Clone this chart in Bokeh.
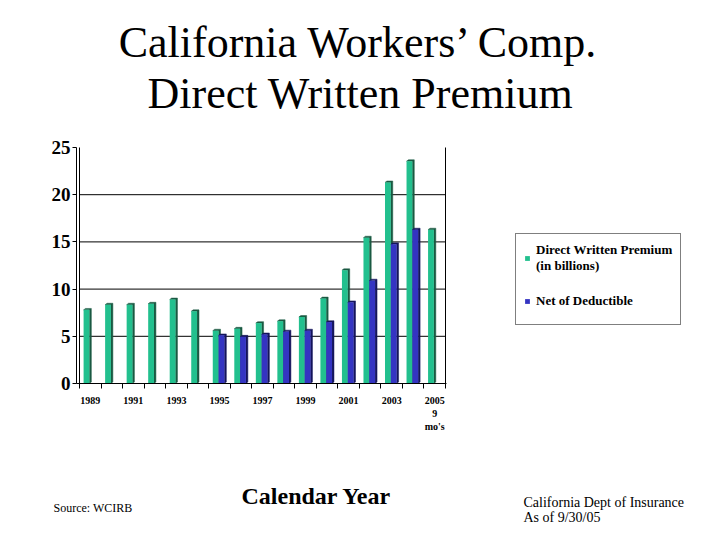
from bokeh.plotting import figure
from bokeh.models import FixedTicker, Label, Legend, LegendItem, Range1d, LinearAxis
from bokeh.embed import file_html
from bokeh.resources import INLINE

# ---- data ----
years = list(range(1989, 2006))
dwp = [7.8, 8.35, 8.35, 8.45, 8.9, 7.65, 5.6, 5.8, 6.4, 6.6, 7.05, 9.0, 12.0, 15.45, 21.3, 23.55, 16.3]
net_years = list(range(1995, 2005))
net = [5.1, 4.95, 5.2, 5.5, 5.6, 6.5, 8.6, 10.9, 14.75, 16.3]
tick_years = list(range(1989, 2006, 2))
tick_labels = {2005: "2005\n9\nmo's"}
y_ticks = [0, 5, 10, 15, 20, 25]
grid_ticks = [5, 10, 15, 20]
series_names = ["Direct Written Premium\n(in billions)", "Net of Deductible"]

SERIF = "Liberation Serif"
GREEN, GREEN_DARK = "#22c08e", "#1b5a43"
BLUE, BLUE_DARK = "#3434c2", "#15155c"

# ---- layout geometry (pixels) ----
W, H = 704, 524
X_FIRST, X_LAST = years[0] - 0.5, years[-1] + 0.5      # category boundaries
PX_FIRST, PX_LAST = 79.0, 445.0                          # where they sit on the canvas
PY_ZERO, PY_TOP = 383.0, 147.0                           # y=0 and y=25 on the canvas
Y_MAX = y_ticks[-1]
SX = (PX_LAST - PX_FIRST) / (X_LAST - X_FIRST)
SY = (PY_ZERO - PY_TOP) / Y_MAX
x0 = X_FIRST - PX_FIRST / SX
y0 = -(H - PY_ZERO) / SY
X_AXIS_START = X_FIRST - 3.0 / SX

p = figure(width=W, height=H, output_backend="svg", toolbar_location=None,
           x_axis_location=None, y_axis_location=None,
           x_range=Range1d(x0, x0 + W / SX), y_range=Range1d(y0, y0 + H / SY),
           min_border=0)
p.outline_line_color = None
p.xgrid.visible = False
p.ygrid.visible = False

# grid lines and side walls
p.segment(x0=X_FIRST, x1=X_LAST, y0=grid_ticks, y1=grid_ticks, line_color="black", line_width=1)
p.segment(x0=[X_FIRST, X_LAST], x1=[X_FIRST, X_LAST], y0=0, y1=Y_MAX, line_color="black", line_width=1)

# 3D-ish bars
D = 0.09    # side depth (x units)
DY = 0.15   # side rise (y units)


def bar_shapes(xs, tops, left_off, right_off):
    lefts = [x + left_off for x in xs]
    rights = [x + right_off for x in xs]
    pxs, pys = [], []
    for xl, xr, t in zip(lefts, rights, tops):
        pxs.append([xl, xl + D, xr + D, xr + D, xr, xr])
        pys.append([t, t + DY, t + DY, DY, 0, t])
    return lefts, rights, pxs, pys


gl, gr, gpx, gpy = bar_shapes(years, dwp, -0.31, -0.04)
bl, br, bpx, bpy = bar_shapes(net_years, net, -0.04, 0.23)

p.patches(gpx, gpy, fill_color=GREEN_DARK, line_color=GREEN_DARK, line_width=0.5)
g_face = p.quad(left=gl, right=gr, bottom=0, top=dwp, fill_color=GREEN, line_color=None)
p.patches(bpx, bpy, fill_color=BLUE_DARK, line_color=BLUE_DARK, line_width=0.5)
b_face = p.quad(left=bl, right=br, bottom=0, top=net, fill_color=BLUE, line_color=None)

# axes
xa = LinearAxis(fixed_location=0, bounds=(X_AXIS_START, X_LAST + 0.05))
xa.ticker = FixedTicker(ticks=tick_years, minor_ticks=[X_FIRST + i for i in range(len(years) + 1)])
xa.major_label_overrides = tick_labels
xa.major_tick_out = 0
xa.major_tick_in = 0
xa.minor_tick_out = 5
xa.minor_tick_in = 0
xa.minor_tick_line_color = "black"
xa.axis_line_color = "black"
xa.major_label_text_font = SERIF
xa.major_label_text_font_style = "bold"
xa.major_label_text_font_size = "10px"
xa.major_label_text_color = "black"
xa.major_label_standoff = 6
p.add_layout(xa, "below")

ya = LinearAxis(fixed_location=X_AXIS_START, bounds=(0, Y_MAX))
ya.ticker = FixedTicker(ticks=y_ticks)
ya.major_tick_out = 4
ya.major_tick_in = 0
ya.minor_tick_out = 0
ya.axis_line_color = "black"
ya.major_label_text_font = SERIF
ya.major_label_text_font_style = "bold"
ya.major_label_text_font_size = "19px"
ya.major_label_text_color = "black"
ya.major_label_standoff = 2
p.add_layout(ya, "left")

# legend (bottom-left corner given in pixels from the canvas bottom-left)
legend = Legend(items=[LegendItem(label=series_names[0], renderers=[g_face]),
                       LegendItem(label=series_names[1], renderers=[b_face])],
                location=(515, H - 325), orientation="vertical",
                label_text_font=SERIF, label_text_font_style="bold",
                label_text_font_size="13px", label_text_color="black",
                glyph_width=6, glyph_height=6, label_standoff=6,
                label_height=30, padding=8, spacing=12, margin=0,
                border_line_color="black", border_line_width=1,
                background_fill_color="white", background_fill_alpha=1.0)
p.add_layout(legend)


def add_label(x, y_from_top, text, size, style="normal", align="left"):
    p.add_layout(Label(x=x, y=H - y_from_top, x_units="screen", y_units="screen", text=text,
                       text_font=SERIF, text_font_size=size, text_font_style=style,
                       text_align=align, text_baseline="alphabetic", text_color="black"))


add_label(359, 42, "California Workers\u2019 Comp.", "44px", align="center")
add_label(360, 93, "Direct Written Premium", "44px", align="center")
add_label(316, 495, "Calendar Year", "24px", style="bold", align="center")
add_label(53, 507, "Source: WCIRB", "12px")
add_label(523, 502, "California Dept of Insurance", "14px")
add_label(523, 517, "As of 9/30/05", "14px")

open("out.html", "w").write(file_html(p, INLINE))
